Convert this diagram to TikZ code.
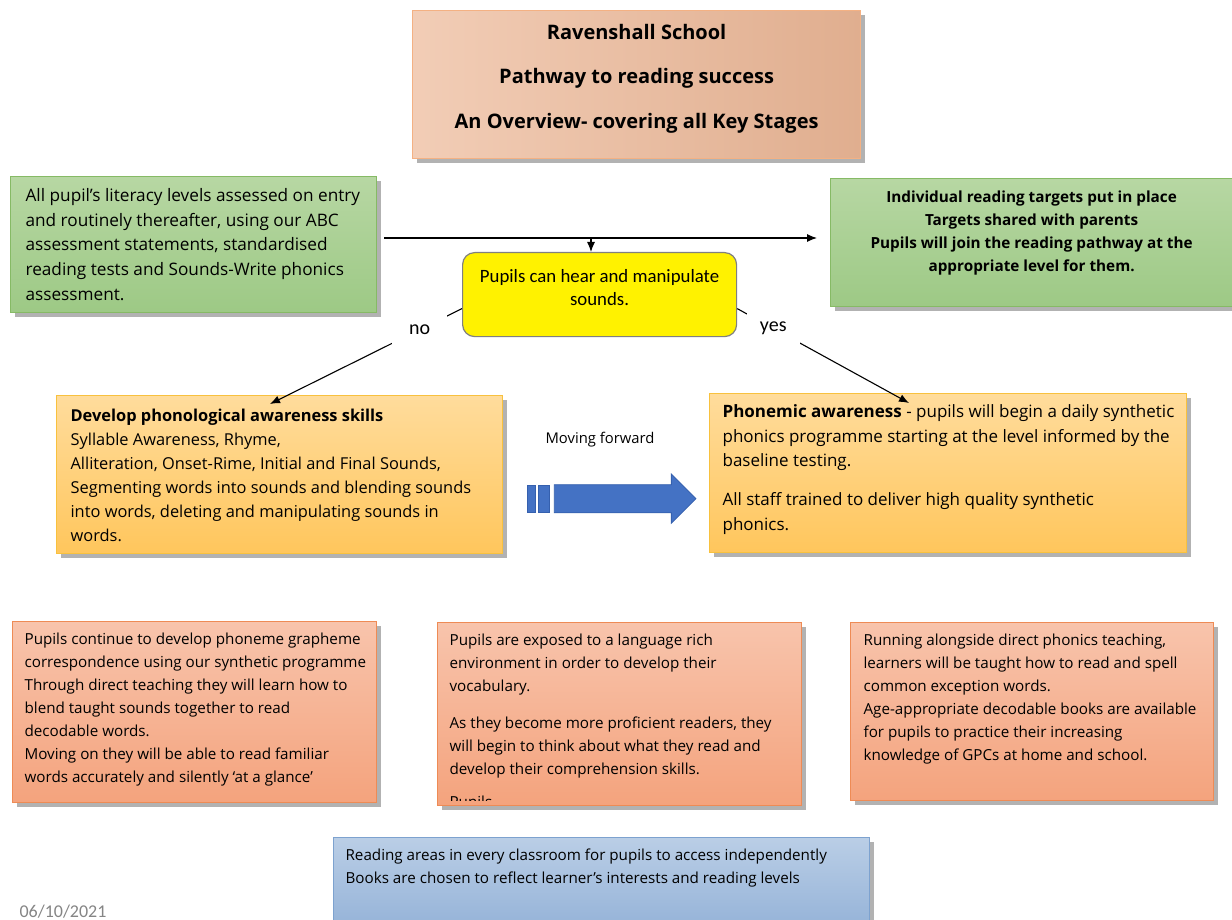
\documentclass[tikz,border=0pt]{standalone}
\usepackage{fontspec}
\setmainfont{Open Sans}
\newfontfamily\calibri{Carlito}
\usetikzlibrary{arrows.meta,shadows,shapes.arrows,positioning}

\definecolor{titlelight}{HTML}{FCE6DA}
\definecolor{titleleft}{HTML}{F2CDB6}
\definecolor{titledark}{HTML}{E0AE8F}
\definecolor{titleline}{HTML}{F4B183}
\definecolor{greentop}{HTML}{B7D7A3}
\definecolor{greenbot}{HTML}{9DC985}
\definecolor{greenline}{HTML}{86BA65}
\definecolor{orangetop}{HTML}{FFDC9C}
\definecolor{orangebot}{HTML}{FFC65C}
\definecolor{orangeline}{HTML}{F8C13E}
\definecolor{salmontop}{HTML}{F8C4AC}
\definecolor{salmonbot}{HTML}{F4A37D}
\definecolor{salmonline}{HTML}{EE8B55}
\definecolor{bluetop}{HTML}{BACEE6}
\definecolor{bluebot}{HTML}{95B3D8}
\definecolor{blueline}{HTML}{7DA2CF}
\definecolor{arrowblue}{HTML}{4472C4}
\definecolor{arrowline}{HTML}{3560AE}
\definecolor{dategray}{HTML}{858585}

% text of a box: width, height, first baseline, lines
\newcommand\boxtext[4]{\parbox[c][#2pt][t]{#1pt}{\raggedright
  \rightskip=-60pt plus 1fil
  \vskip\dimexpr#3pt-\baselineskip\relax\hbox{}#4}}
% the same, centred
\newcommand\boxmid[4]{\parbox[c][#2pt][t]{#1pt}{\centering
  \vskip\dimexpr#3pt-\baselineskip\relax\hbox{}#4}}

\begin{document}
\begin{tikzpicture}[x=1pt,y=-1pt,>={Latex[length=10pt,width=8pt]},
                    line width=1.1pt,
  box/.style={draw,anchor=north west,inner ysep=0pt,line width=1.2pt,
              drop shadow={shadow xshift=4pt,shadow yshift=-4pt,
                           fill=black,opacity=.3}},
  title/.style={box,draw=titleline,left color=titleleft,
                middle color=titlelight,right color=titledark},
  green/.style={box,draw=greenline,top color=greentop,bottom color=greenbot},
  orange/.style={box,draw=orangeline,top color=orangetop,bottom color=orangebot},
  salmon/.style={box,draw=salmonline,top color=salmontop,bottom color=salmonbot},
  blue/.style={box,draw=blueline,top color=bluetop,bottom color=bluebot},
  small/.style={font=\fontsize{15.2}{22.9}\selectfont},
  lbl/.style={fill=white,font=\calibri\fontsize{20}{24}\selectfont},
  bar/.style={fill=arrowblue,draw=arrowline,line width=.8pt,inner sep=0pt,
              minimum height=27.3pt}]

  \useasboundingbox[fill=white] (0,0) rectangle (1232,920);

  \node[title,inner xsep=0pt,font=\bfseries\fontsize{20}{44.5}\selectfont]
    (Title) at (412,10)
    {\boxmid{448}{148}{28.6}{Ravenshall School\\
      Pathway to reading success\\
      An Overview- covering all Key Stages}};

  \node[green,inner xsep=15pt,font=\fontsize{17.2}{24.75}\selectfont] (Assess) at (10,176)
    {\boxtext{336}{136}{24.7}{All pupil’s literacy levels assessed  on entry\\
      and routinely thereafter, using our ABC\\
      assessment  statements, standardised\\
      reading tests and Sounds-Write phonics\\
      assessment.}};
  \node[green,inner xsep=10pt,font=\bfseries\fontsize{15.3}{23}\selectfont]
    (Targets) at (830,178)
    {\boxmid{382}{128}{24}{Individual reading targets put in place\\
      Targets shared with parents\\
      Pupils  will join the reading pathway at the\\
      appropriate level for them.}};

  \node[draw=black!50,fill=yellow,rounded corners=12pt,anchor=north west,
        inner sep=0pt,line width=1.2pt,font=\calibri\fontsize{18.8}{23}\selectfont]
    (Sounds) at (462,252)
    {\boxmid{274}{84}{30.2}{Pupils can hear and manipulate\\
      sounds.}};

  \node[orange,inner xsep=14pt,font=\fontsize{16.4}{24}\selectfont] (Phono) at (56,395)
    {\boxtext{418}{158}{25.4}{\textbf{Develop  phonological  awareness  skills}\\
      Syllable Awareness, Rhyme,\\
      Alliteration, Onset-Rime,  Initial and Final Sounds,\\
      Segmenting words into sounds and blending sounds\\
      into words, deleting and manipulating sounds in\\
      words.}};
  \node[orange,inner xsep=13pt,font=\fontsize{17}{24.5}\selectfont] (Phonemic) at (709,393)
    {\boxtext{451}{159}{24.3}{\textbf{Phonemic  awareness}  - pupils will begin a daily synthetic\\
      phonics programme starting at the level informed by the\\
      baseline testing.\\[14.5pt]
      All staff trained to deliver high quality synthetic\\
      phonics.}};

  \node[font=\fontsize{14.8}{18}\selectfont] (Ahead) at (600,440) {Moving forward};
  \node[bar,minimum width=8pt] (Bar1) at (531.7,498.7) {};
  \node[bar,minimum width=10.6pt] (Bar2) [right=2pt of Bar1] {};
  \node[single arrow,fill=arrowblue,draw=arrowline,line width=.8pt,
        inner xsep=0pt,inner ysep=13.65pt,minimum height=141.6pt,
        single arrow head extend=10.5pt,single arrow head indent=0pt]
    (Forward) [right=4.4pt of Bar2] {};

  \node[salmon,inner xsep=12pt,small] (Continue) at (12,621)
    {\boxtext{340}{181}{23}{Pupils continue to develop phoneme grapheme\\
      correspondence using our synthetic programme\\
      Through direct teaching they will learn how to\\
      blend taught sounds together to read\\
      decodable words.\\
      Moving on they will be able to read familiar\\
      words accurately and silently ‘at a glance’}};
  \node[salmon,inner xsep=12pt,small] (Exposed) at (437,622)
    {\boxtext{340}{183}{23}{Pupils are exposed to a language  rich\\
      environment in order to develop their\\
      vocabulary.\\[14.3pt]
      As they become more proficient  readers, they\\
      will begin to think about what they read and\\
      develop their comprehension skills.}};
  \begin{scope}
    \clip (Exposed.north west) rectangle ([yshift=6pt]Exposed.south east);
    \node[small,anchor=base west,inner sep=0pt] (ExposedMore) at (449,807.5) {Pupils};
  \end{scope}
  \node[salmon,inner xsep=13pt,small] (Alongside) at (850,622)
    {\boxtext{337}{178}{23}{Running alongside direct phonics teaching,\\
      learners will be taught how to read and spell\\
      common exception words.\\
      Age-appropriate decodable books are available\\
      for pupils to practice their increasing\\
      knowledge of GPCs at home and school.}};

  \node[blue,inner xsep=12pt,small] (Areas) at (333,837)
    {\boxtext{512}{90}{23}{Reading areas in every classroom for pupils  to access independently\\
      Books are chosen to reflect learner’s interests and reading levels}};

  \node[text=dategray,font=\calibri\fontsize{18}{20}\selectfont] (Date) at (63,912) {06/10/2021};

  \coordinate (Split) at (591,238);
  \path[->] (Assess.east |- Split) edge[shorten <=7pt,shorten >=13pt] (Targets.west |- Split)
            (Split) edge (Sounds.north -| Split)
            ([yshift=-14pt]Sounds.west) edge node[lbl,inner xsep=17pt,inner ysep=10pt,pos=.22] {no}
                                          ([xshift=214pt,yshift=-9pt]Phono.north west)
            ([yshift=-14pt]Sounds.east) edge node[lbl,inner xsep=13pt,inner ysep=10pt,pos=.21] {yes}
                                          ([xshift=200pt,yshift=-10pt]Phonemic.north west);
\end{tikzpicture}
\end{document}
